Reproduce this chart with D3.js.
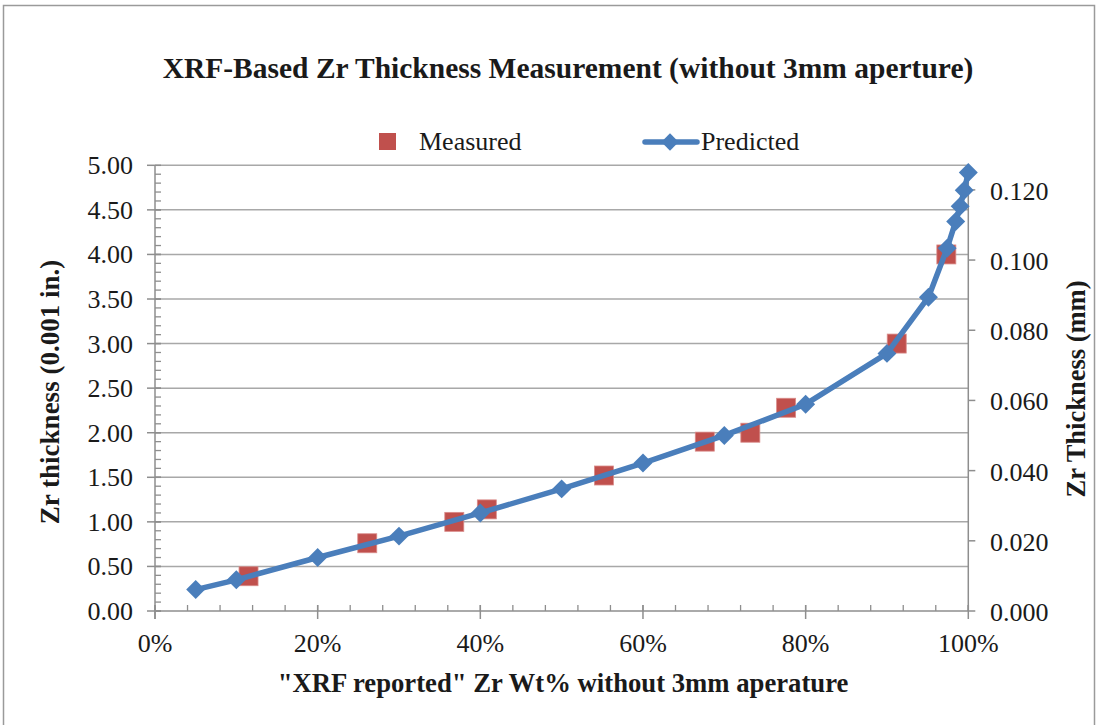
<!DOCTYPE html>
<html><head><meta charset="utf-8">
<script src="https://cdn.jsdelivr.net/npm/d3@7"></script>
<style>body{margin:0;background:#fff}svg{display:block}text{font-family:"Liberation Serif","Times New Roman",serif;fill:#1a1a1a}</style>
</head><body><svg id="c" width="1098" height="725"></svg>
<script>
// Data
const predictedX = [0.05, 0.10, 0.20, 0.30, 0.40, 0.50, 0.60, 0.70, 0.80, 0.90, 0.951, 0.974, 0.9845, 0.990, 0.995, 1.000];
const predictedY = [0.24, 0.35, 0.60, 0.84, 1.10, 1.37, 1.66, 1.97, 2.32, 2.89, 3.52, 4.07, 4.37, 4.54, 4.72, 4.92];
const measuredX = [0.115, 0.261, 0.368, 0.408, 0.552, 0.676, 0.732, 0.776, 0.912, 0.973];
const measuredY = [0.39, 0.76, 1.00, 1.14, 1.52, 1.90, 2.00, 2.28, 3.00, 4.00];
const leftTicks = [0, 0.5, 1, 1.5, 2, 2.5, 3, 3.5, 4, 4.5, 5];
const rightTicks = [0, 0.02, 0.04, 0.06, 0.08, 0.10, 0.12];
const xTicks = [0, 0.2, 0.4, 0.6, 0.8, 1.0];
const title = "XRF-Based Zr Thickness Measurement (without 3mm aperture)";
const xTitle = "\"XRF reported\" Zr Wt% without 3mm aperature";
const yTitle = "Zr thickness (0.001 in.)";
const y2Title = "Zr Thickness (mm)";

const svg = d3.select("#c");
const L = 155, R = 968.3, T = 165.3, B = 611;
const x = d3.scaleLinear().domain([0, 1]).range([L, R]);
const y = d3.scaleLinear().domain([0, 5]).range([B, T]);
const y2 = d3.scaleLinear().domain([0, 0.127]).range([B, T]);
const axisCol = "#8e8e8e", gridCol = "#a8a8a8";

// outer border
svg.append("rect").attr("x", 3.5).attr("y", 5.5).attr("width", 1091).attr("height", 730)
  .attr("fill", "none").attr("stroke", "#9a9a9a").attr("stroke-width", 1.5);

// title
svg.append("text").attr("x", 568).attr("y", 78).attr("text-anchor", "middle")
  .attr("font-size", 29.5).attr("font-weight", "bold").text(title);

// gridlines
svg.append("g").selectAll("line").data(leftTicks.slice(1)).join("line")
  .attr("x1", L).attr("x2", R).attr("y1", d => y(d)).attr("y2", d => y(d))
  .attr("stroke", gridCol).attr("stroke-width", 1.5);

// left axis
const gl = svg.append("g");
gl.append("line").attr("x1", L).attr("x2", L).attr("y1", T).attr("y2", B + 8).attr("stroke", axisCol).attr("stroke-width", 1.5);
const minorY = d3.range(0, 50).map(i => i / 10);
gl.selectAll(".mn").data(minorY).join("line").attr("class", "mn")
  .attr("x1", L).attr("x2", L + 6).attr("y1", d => y(d)).attr("y2", d => y(d)).attr("stroke", axisCol).attr("stroke-width", 1.3);
gl.selectAll(".mj").data(leftTicks).join("line").attr("class", "mj")
  .attr("x1", L - 8).attr("x2", L + 6).attr("y1", d => y(d)).attr("y2", d => y(d)).attr("stroke", axisCol).attr("stroke-width", 1.5);
gl.selectAll("text").data(leftTicks).join("text")
  .attr("x", 133).attr("y", d => y(d) + 9).attr("text-anchor", "end").attr("font-size", 26)
  .text(d => d3.format(".2f")(d));

// x axis
const gx = svg.append("g");
gx.append("line").attr("x1", L).attr("x2", R).attr("y1", B).attr("y2", B).attr("stroke", axisCol).attr("stroke-width", 1.5);
const minorX = d3.range(0, 26).map(i => i * 0.04);
gx.selectAll(".mn").data(minorX).join("line").attr("class", "mn")
  .attr("x1", d => x(d)).attr("x2", d => x(d)).attr("y1", B - 6).attr("y2", B).attr("stroke", axisCol).attr("stroke-width", 1.3);
gx.selectAll(".mj").data(xTicks).join("line").attr("class", "mj")
  .attr("x1", d => x(d)).attr("x2", d => x(d)).attr("y1", B - 6).attr("y2", B + 8).attr("stroke", axisCol).attr("stroke-width", 1.5);
gx.selectAll("text").data(xTicks).join("text")
  .attr("x", d => x(d)).attr("y", 652).attr("text-anchor", "middle").attr("font-size", 26)
  .text(d => d3.format(".0%")(d));

// right axis
const gr = svg.append("g");
gr.append("line").attr("x1", R).attr("x2", R).attr("y1", T).attr("y2", B).attr("stroke", axisCol).attr("stroke-width", 1.5);
gr.selectAll("line.t").data(rightTicks).join("line").attr("class", "t")
  .attr("x1", R).attr("x2", R + 7).attr("y1", d => y2(d)).attr("y2", d => y2(d)).attr("stroke", axisCol).attr("stroke-width", 1.5);
gr.selectAll("text").data(rightTicks).join("text")
  .attr("x", 990).attr("y", d => y2(d) + 10).attr("font-size", 26)
  .text(d => d3.format(".3f")(d));

// axis titles
svg.append("text").attr("x", 563).attr("y", 692).attr("text-anchor", "middle")
  .attr("font-size", 26.7).attr("font-weight", "bold").text(xTitle);
svg.append("text").attr("transform", "translate(59,392) rotate(-90)").attr("text-anchor", "middle")
  .attr("font-size", 27).attr("font-weight", "bold").text(yTitle);
svg.append("text").attr("transform", "translate(1085,389) rotate(-90)").attr("text-anchor", "middle")
  .attr("font-size", 26.5).attr("font-weight", "bold").text(y2Title);

// measured squares
const red = "#c0504d", blue = "#4a7ebb";
const ms = 19;
svg.append("g").selectAll("rect").data(measuredX.map((d, i) => [d, measuredY[i]])).join("rect")
  .attr("x", d => x(d[0]) - ms / 2).attr("y", d => y(d[1]) - ms / 2).attr("width", ms).attr("height", ms)
  .attr("fill", red).attr("stroke", "#d98c8a").attr("stroke-width", 0.8);

// predicted line
const pts = predictedX.map((d, i) => [d, predictedY[i]]);
svg.append("path").datum(pts)
  .attr("d", d3.line().x(d => x(d[0])).y(d => y(d[1])))
  .attr("fill", "none").attr("stroke", blue).attr("stroke-width", 5.5).attr("stroke-linejoin", "round");
svg.append("g").selectAll("path").data(pts).join("path")
  .attr("transform", d => `translate(${x(d[0])},${y(d[1])}) rotate(45)`)
  .attr("d", d3.symbol().type(d3.symbolSquare).size(180)).attr("fill", blue);

// legend
svg.append("rect").attr("x", 379).attr("y", 133).attr("width", 17).attr("height", 17).attr("fill", red);
svg.append("text").attr("x", 419).attr("y", 150).attr("font-size", 26).text("Measured");
svg.append("line").attr("x1", 645).attr("x2", 697).attr("y1", 142).attr("y2", 142)
  .attr("stroke", blue).attr("stroke-width", 5.5).attr("stroke-linecap", "round");
svg.append("path").attr("transform", "translate(670,142) rotate(45)")
  .attr("d", d3.symbol().type(d3.symbolSquare).size(150)).attr("fill", blue);
svg.append("text").attr("x", 701).attr("y", 150).attr("font-size", 26).text("Predicted");
</script></body></html>
